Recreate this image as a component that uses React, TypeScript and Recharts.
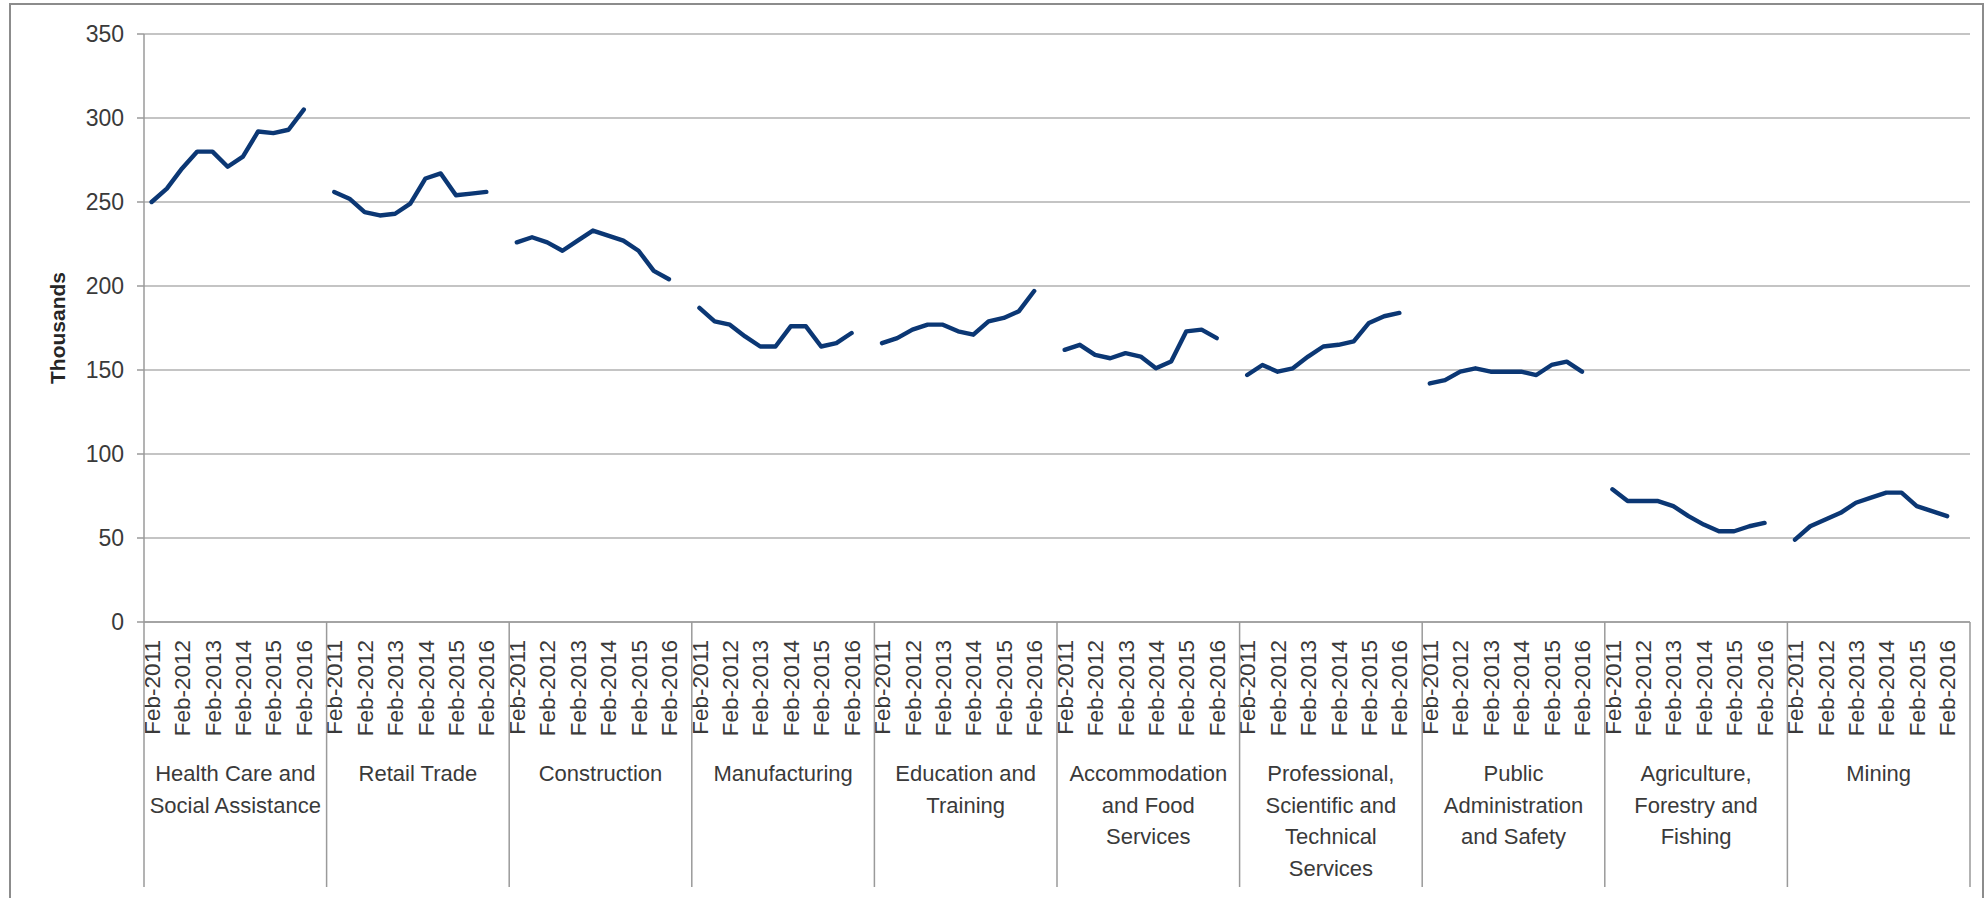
import { CartesianGrid, Line, LineChart, XAxis, YAxis } from "recharts";

// half-yearly periods; the 12th slot in each group has no data
const periods = [
  "Feb-2011", "Aug-2011", "Feb-2012", "Aug-2012", "Feb-2013", "Aug-2013",
  "Feb-2014", "Aug-2014", "Feb-2015", "Aug-2015", "Feb-2016", "",
];

const industries = [
  "Health Care and\nSocial Assistance",
  "Retail Trade",
  "Construction",
  "Manufacturing",
  "Education and\nTraining",
  "Accommodation\nand Food\nServices",
  "Professional,\nScientific and\nTechnical\nServices",
  "Public\nAdministration\nand Safety",
  "Agriculture,\nForestry and\nFishing",
  "Mining",
];

const healthCare = [250, 258, 270, 280, 280, 271, 277, 292, 291, 293, 305];
const retailTrade = [256, 252, 244, 242, 243, 249, 264, 267, 254, 255, 256];
const construction = [226, 229, 226, 221, 227, 233, 230, 227, 221, 209, 204];
const manufacturing = [187, 179, 177, 170, 164, 164, 176, 176, 164, 166, 172];
const education = [166, 169, 174, 177, 177, 173, 171, 179, 181, 185, 197];
const accommodation = [162, 165, 159, 157, 160, 158, 151, 155, 173, 174, 169];
const professional = [147, 153, 149, 151, 158, 164, 165, 167, 178, 182, 184];
const publicAdmin = [142, 144, 149, 151, 149, 149, 149, 147, 153, 155, 149];
const agriculture = [79, 72, 72, 72, 69, 63, 58, 54, 54, 57, 59];
const mining = [49, 57, 61, 65, 71, 74, 77, 77, 69, 66, 63];

const seriesValues = [
  healthCare, retailTrade, construction, manufacturing, education,
  accommodation, professional, publicAdmin, agriculture, mining,
];

const yTicks = [0, 50, 100, 150, 200, 250, 300, 350];

// layout
const W = 1986;
const H = 898;
const plotLeft = 144;
const plotRight = 1970;
const plotTop = 34;
const plotBottom = 622;
const axisH = 265;
const yAxisW = 80;
const per = periods.length;
const n = industries.length * per;
const bandW = (plotRight - plotLeft) / n;

const navy = "#0b3774";
const textColor = "#3a3a3a";
const gridColor = "#b0b0b0";
const axisColor = "#9a9a9a";
const font = "Liberation Sans, Arial, sans-serif";

const rows = industries.flatMap((ind, i) =>
  periods.map((p, j) => {
    const row: Record<string, string | number | undefined> = { key: `${i}-${j}`, period: p };
    row[`s${i}`] = seriesValues[i][j];
    return row;
  })
);

function GroupTick(props: any) {
  const { x, y, index } = props;
  const g = Math.floor(index / per);
  const pos = index % per;
  const parts: any[] = [];
  if (pos % 2 === 0 && periods[pos]) {
    parts.push(
      <text
        key="d"
        transform={`translate(${x},${y + 18}) rotate(-90)`}
        textAnchor="end"
        dy="0.36em"
        fontFamily={font}
        fontSize={22.5}
        fill={textColor}
      >
        {periods[pos]}
      </text>
    );
  }
  if (pos === 0) {
    const lx = x - bandW / 2;
    parts.push(<line key="s" x1={lx} x2={lx} y1={y} y2={y + axisH} stroke={axisColor} strokeWidth={1.5} />);
    const cx = lx + (per * bandW) / 2;
    const lines = industries[g].split("\n");
    parts.push(
      <text key="g" x={cx} y={y + 159} textAnchor="middle" fontFamily={font} fontSize={22} fill={textColor}>
        {lines.map((t, k) => (
          <tspan key={k} x={cx} dy={k === 0 ? 0 : 31.7}>
            {t}
          </tspan>
        ))}
      </text>
    );
  }
  if (g === industries.length - 1 && pos === per - 1) {
    const rx = x + bandW / 2;
    parts.push(<line key="e" x1={rx} x2={rx} y1={y} y2={y + axisH} stroke={axisColor} strokeWidth={1.5} />);
  }
  return <g>{parts}</g>;
}

function YTitle(props: any) {
  const vb = props.viewBox || { y: plotTop, height: plotBottom - plotTop };
  const cy = vb.y + vb.height / 2;
  return (
    <text
      transform={`translate(57,${cy}) rotate(-90)`}
      textAnchor="middle"
      dy="0.36em"
      fontFamily={font}
      fontWeight="bold"
      fontSize={21}
      fill="#262626"
    >
      Thousands
    </text>
  );
}

export default function App() {
  return (
    <div style={{ position: "absolute", left: 0, top: 0, width: W, height: H, background: "#fff" }}>
      <div
        style={{
          position: "absolute",
          left: 9,
          top: 3,
          width: 1971,
          height: 920,
          border: "2px solid #8c8c8c",
        }}
      />
      <div style={{ position: "absolute", left: 0, top: 0 }}>
        <LineChart
          width={W}
          height={H}
          data={rows}
          margin={{ top: plotTop, right: W - plotRight, left: plotLeft - yAxisW, bottom: H - plotBottom - axisH }}
        >
          <CartesianGrid vertical={false} stroke={gridColor} strokeWidth={1.5} />
          <XAxis
            dataKey="key"
            interval={0}
            height={axisH}
            tickSize={0}
            tickMargin={0}
            tickLine={false}
            padding={{ left: bandW / 2, right: bandW / 2 }}
            axisLine={{ stroke: axisColor, strokeWidth: 1.5 }}
            tick={(p: any) => <GroupTick {...p} />}
          />
          <YAxis
            width={yAxisW}
            domain={[0, 350]}
            ticks={yTicks}
            interval={0}
            tickSize={7}
            tickMargin={13}
            tickLine={{ stroke: axisColor, strokeWidth: 1.5 }}
            axisLine={{ stroke: axisColor, strokeWidth: 1.5 }}
            tick={{ fill: textColor, fontSize: 23, fontFamily: font }}
            label={(p: any) => <YTitle {...p} />}
          />
          {industries.map((_, i) => (
            <Line
              key={i}
              type="linear"
              dataKey={`s${i}`}
              stroke={navy}
              strokeWidth={4.4}
              strokeLinejoin="round"
              strokeLinecap="round"
              dot={false}
              activeDot={false}
              connectNulls={false}
              isAnimationActive={false}
            />
          ))}
        </LineChart>
      </div>
    </div>
  );
}
